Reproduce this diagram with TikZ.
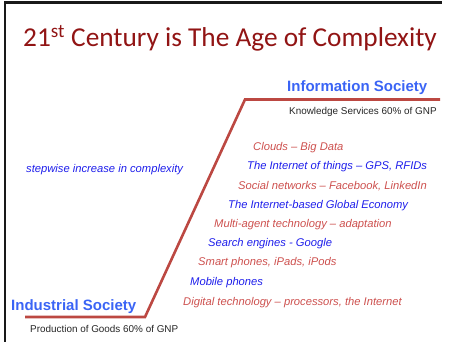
\documentclass[tikz,border=0pt]{standalone}
\usepackage{fontspec}
\setmainfont{Liberation Sans}
\newfontfamily\titlefont{Carlito}
\usepackage{xcolor}
\usepackage{tikz}
\usetikzlibrary{calc,positioning}

\definecolor{titlered}{RGB}{145,20,20}
\definecolor{stepred}{RGB}{188,72,66}
\definecolor{headblue}{RGB}{58,100,245}
\definecolor{itemblue}{RGB}{30,30,235}
\definecolor{itemred}{RGB}{205,80,78}

\begin{document}
\begin{tikzpicture}[x=1pt,y=-1pt]
      \tikzstyle{every node}=[inner sep=0pt,anchor=base west]
      \tikzstyle{head}=[text=headblue,font=\fontsize{15}{17}\selectfont\bfseries]
      \tikzstyle{share}=[text=black!85,font=\fontsize{9.9}{11}\selectfont]
      \tikzstyle{redtech}=[text=itemred,font=\fontsize{11.2}{13}\selectfont\itshape]
      \tikzstyle{bluetech}=[text=itemblue,font=\fontsize{11.2}{13}\selectfont\itshape]
      \tikzstyle{stepline}=[draw=stepred,line width=2.6pt,line join=miter]

      \useasboundingbox (0,0) rectangle (451,342);
      % slide frame
      \draw[line width=2.4pt,black!90] (5,342) -- (5,2.5) -- (442,2.5);

      \node[text=titlered,font=\titlefont\fontsize{27.3}{30}\selectfont] (title) at (23,47)
        {21\textsuperscript{st} Century is The Age of Complexity};

      % the step
      \coordinate (low) at (25,317);
      \coordinate (knee) at (145,317);
      \coordinate (top) at (245,99.5);
      \coordinate (high) at (440,99.5);
      \draw[stepline] (low) -- (knee) -- (top) -- (high);

      \node[head] (info) at (287,92) {Information Society};
      \node[share] (know) at (289,115) {Knowledge Services 60\% of GNP};
      \node[head] (ind) at (11,311) {Industrial Society};
      \node[share] (prod) at (30,333) {Production of Goods 60\% of GNP};

      \node[bluetech] (stepwise) at (26,173) {stepwise increase in complexity};

      \node[redtech] (clouds) at (253,151) {Clouds -- Big Data};
      \node[bluetech] (iot) at (247,170) {The Internet of things -- GPS, RFIDs};
      \node[redtech] (social) at (238,189.3) {Social networks -- Facebook, LinkedIn};
      \node[bluetech] (economy) at (228,208.5) {The Internet-based Global Economy};
      \node[redtech] (agent) at (214,227.7) {Multi-agent technology -- adaptation};
      \node[bluetech] (search) at (208,247) {Search engines - Google};
      \node[redtech] (smart) at (198,266) {Smart phones, iPads, iPods};
      \node[bluetech] (mobile) at (190,285.5) {Mobile phones};
      \node[redtech] (digital) at (183,306) {Digital technology -- processors, the Internet};
\end{tikzpicture}
\end{document}
